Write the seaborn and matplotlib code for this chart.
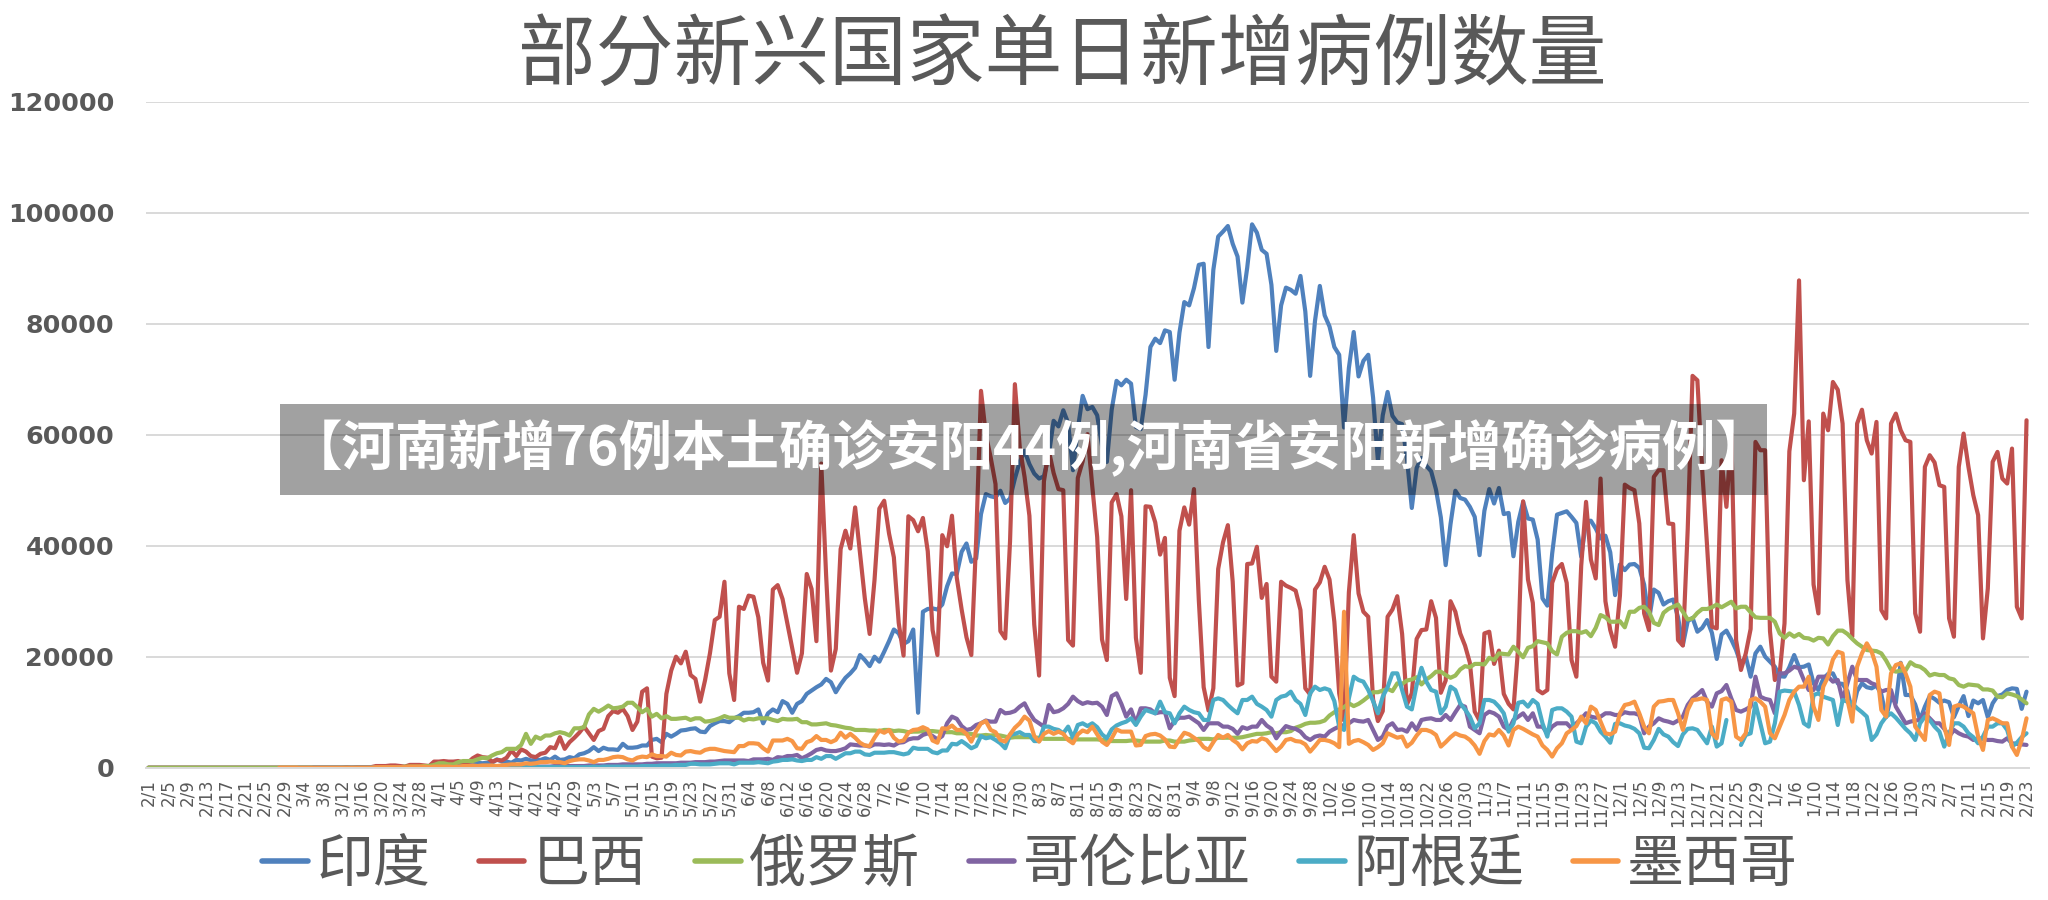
import numpy as np
import pandas as pd
import seaborn as sns
import matplotlib.pyplot as plt
from matplotlib.lines import Line2D
from matplotlib.patches import Rectangle

nan = np.nan

# daily new cases in thousands, 2020-02-01 .. 2021-02-23 (one value per day)
india = (
    [0] * 29
    + [0, 0, 0, 0, 0, 0, 0, 0, 0, 0, 0, 0, 0, 0, 0, 0, 0, 0, 0.1, 0.1, 0.1, 0.1, 0.1, 0.1, 0.1, 0.1, 0.1, 0.1, 0.2, 0.1, 0.6]
    + [0.5, 0.5, 0.5, 0.5, 0.7, 0.5, 0.5, 0.6, 0.9, 0.8, 0.9, 0.9, 1.5, 1.1, 1.1, 0.9, 1.4, 1.3, 1.6, 1.3, 1.4, 1.4, 1.7, 1.4, 2.0, 1.4, 1.5, 1.9, 1.7, 2.4]
    + [2.6, 3.0, 3.7, 3.0, 3.6, 3.3, 3.3, 3.2, 4.3, 3.6, 3.6, 3.7, 4.0, 4.0, 5.0, 5.2, 4.6, 6.1, 5.6, 6.1, 6.7, 6.8, 7.0, 7.1, 6.5, 6.4, 7.5, 8.0, 8.4, 8.4, 8.2]
    + [8.9, 9.3, 9.9, 9.9, 10.0, 10.5, 8.0, 9.8, 10.5, 10.0, 12.0, 11.5, 9.9, 11.5, 12.0, 13.3, 13.9, 14.5, 15.0, 16.0, 15.4, 13.6, 15.0, 16.2, 17.0, 18.0, 20.3, 19.4, 18.3, 20.0]
    + [19.1, 20.9, 22.8, 24.9, 24.2, 22.3, 22.8, 24.9, 9.9, 28.1, 28.6, 28.7, 28.5, 29.4, 32.7, 35.0, 34.9, 38.9, 40.4, 37.1, 37.7, 45.7, 49.3, 48.9, 48.7, 49.9, 47.7, 48.5, 52.1, 55.1, 57.1]
    + [54.7, 53.0, 52.1, 52.5, 56.3, 62.5, 61.5, 64.4, 62.1, 53.6, 61.0, 67.0, 64.6, 65.0, 63.5, 58.0, 55.1, 64.5, 69.7, 68.9, 69.9, 69.2, 61.4, 61.0, 67.2, 75.8, 77.3, 76.5, 78.8, 78.5, 69.9]
    + [78.4, 83.9, 83.3, 86.4, 90.6, 90.8, 75.8, 89.7, 95.7, 96.6, 97.6, 94.4, 92.1, 83.8, 90.1, 97.9, 96.4, 93.3, 92.6, 87.0, 75.1, 83.3, 86.5, 86.1, 85.4, 88.6, 82.2, 70.6, 80.5, 86.8]
    + [81.5, 79.5, 75.8, 74.4, 61.3, 72.0, 78.5, 70.5, 73.3, 74.4, 66.7, 55.3, 63.5, 67.7, 63.4, 62.2, 61.9, 55.7, 46.8, 54.0, 55.8, 54.4, 53.4, 50.1, 45.1, 36.5, 43.9, 49.9, 48.6, 48.3, 47.0]
    + [45.2, 38.3, 46.3, 50.2, 47.6, 50.4, 45.7, 45.9, 38.1, 44.3, 47.9, 44.9, 44.7, 41.1, 30.5, 29.2, 38.6, 45.6, 45.9, 46.2, 45.2, 44.1, 38.0, 44.4, 44.5, 43.1, 41.3, 41.8, 38.8, 31.1]
    + [36.6, 35.6, 36.6, 36.7, 36.0, 33.0, 26.6, 32.1, 31.5, 29.4, 30.0, 30.3, 27.1, 22.1, 26.4, 27.0, 24.5, 25.2, 26.6, 24.3, 19.6, 24.0, 24.7, 23.1, 21.2, 18.7, 20.0, 16.4, 20.6, 21.8, 20.0]
    + [19.1, 18.2, 16.5, 16.4, 18.1, 20.3, 18.1, 18.2, 18.6, 15.2, 14.0, 16.0, 16.9, 17.0, 15.2, 15.1, 13.8, 10.1, 13.8, 15.2, 14.5, 14.3, 14.8, 13.2, 9.1, 12.7, 11.7, 18.9, 13.1, 13.1, 11.4]
    + [8.6, 11.0, 12.9, 12.4, 11.7, 12.1, 11.8, 9.1, 11.1, 12.9, 9.3, 12.1, 11.6, 12.2, 9.1, 11.6, 12.9, 13.2, 14.0, 14.3, 14.2, 10.6, 13.7]
)

brazil = (
    [0] * 29
    + [0, 0, 0, 0, 0, 0, 0, 0, 0, 0, 0, 0, 0.1, 0, 0.1, 0.1, 0.1, 0.1, 0.3, 0.3, 0.3, 0.4, 0.4, 0.3, 0.2, 0.5, 0.5, 0.5, 0.4, 0.3, 1.1]
    + [1.1, 1.2, 1.1, 1.1, 1.2, 0.9, 0.9, 1.7, 2.2, 1.9, 1.8, 1.1, 1.4, 1.3, 1.8, 3.1, 2.1, 3.3, 2.9, 2.1, 1.9, 2.5, 2.7, 3.7, 3.5, 5.5, 3.4, 4.6, 5.4, 6.3]
    + [7.4, 6.2, 5.0, 6.6, 7.0, 9.3, 10.2, 9.9, 10.6, 9.3, 6.8, 8.3, 13.7, 14.3, 2.0, 1.7, 1.8, 13.3, 17.5, 20.0, 18.8, 20.9, 16.7, 16.0, 11.9, 15.8, 20.6, 26.6, 27.2, 33.5, 17.0]
    + [12.2, 29.0, 28.6, 31.0, 30.8, 27.1, 18.9, 15.7, 32.1, 32.9, 30.4, 26.0, 21.7, 17.1, 20.6, 34.9, 32.2, 22.8, 54.8, 34.7, 17.5, 21.4, 39.4, 42.7, 39.5, 46.9, 38.7, 30.5, 24.1, 33.8]
    + [46.7, 48.1, 42.2, 37.9, 26.1, 20.2, 45.3, 44.6, 42.6, 45.0, 39.0, 24.8, 20.3, 41.9, 39.9, 45.4, 34.2, 28.5, 23.5, 20.3, 41.0, 67.9, 60.0, 55.9, 51.1, 24.6, 23.3, 40.8, 69.1, 57.8, 52.4]
    + [45.4, 25.8, 16.6, 51.6, 57.2, 53.1, 50.2, 50.0, 23.0, 22.0, 52.2, 55.2, 60.1, 50.6, 41.6, 23.1, 19.4, 47.8, 49.3, 45.3, 30.4, 50.0, 23.4, 17.1, 47.1, 47.0, 44.2, 38.4, 41.4, 16.2, 12.9]
    + [42.7, 46.9, 43.8, 50.2, 30.2, 14.5, 10.3, 14.3, 35.8, 40.6, 43.7, 33.5, 14.8, 15.2, 36.7, 36.8, 39.8, 30.6, 33.1, 16.4, 15.5, 33.5, 32.8, 32.4, 31.9, 28.4, 14.3, 13.2, 32.1, 33.4]
    + [36.2, 33.9, 26.3, 13.4, 8.5, 31.6, 41.9, 31.4, 28.1, 27.2, 12.3, 8.4, 10.2, 27.2, 28.5, 30.9, 24.1, 11.4, 13.4, 23.2, 24.8, 24.9, 30.0, 27.0, 13.5, 15.7, 30.0, 28.1, 24.2, 22.0, 18.9]
    + [10.1, 8.5, 24.2, 24.5, 18.7, 21.1, 13.3, 11.5, 10.5, 22.0, 48.0, 33.9, 29.7, 14.0, 13.4, 14.0, 33.3, 35.8, 36.7, 33.3, 19.4, 16.4, 36.4, 47.9, 37.5, 34.1, 52.1, 30.0, 24.8, 21.8]
    + [31.0, 51.0, 50.4, 50.0, 44.0, 27.8, 24.8, 52.4, 53.6, 53.6, 44.0, 43.9, 23.0, 22.0, 42.9, 70.6, 69.8, 53.6, 40.0, 25.4, 25.1, 55.4, 47.0, 60.2, 23.0, 17.6, 20.6, 25.0, 58.7, 57.2, 57.2]
    + [24.6, 15.8, 17.0, 26.0, 57.0, 63.8, 87.8, 51.8, 62.4, 33.0, 27.8, 63.8, 60.8, 69.5, 68.1, 62.0, 33.8, 23.6, 62.0, 64.5, 59.0, 56.6, 62.3, 28.4, 26.9, 62.0, 63.8, 60.8, 59.0, 58.7, 27.8]
    + [24.5, 54.2, 56.3, 55.0, 50.9, 50.6, 26.9, 23.6, 54.2, 60.2, 54.2, 49.1, 45.5, 23.3, 32.3, 55.1, 56.9, 52.1, 51.2, 57.5, 29.0, 26.9, 62.6]
)

russia = (
    [0] * 29
    + [0, 0, 0, 0, 0, 0, 0, 0, 0, 0, 0, 0, 0, 0, 0, 0, 0, 0, 0.1, 0.1, 0.1, 0.1, 0.1, 0.1, 0.2, 0.2, 0.2, 0.2, 0.3, 0.3, 0.5]
    + [0.8, 0.8, 0.6, 0.6, 1.0, 1.2, 1.2, 1.2, 1.5, 1.8, 1.7, 2.2, 2.6, 2.8, 3.4, 3.4, 3.4, 4.1, 6.1, 4.3, 5.6, 5.2, 5.8, 5.8, 6.2, 6.4, 6.2, 5.8, 7.1, 7.1]
    + [7.3, 9.6, 10.6, 10.1, 10.6, 11.2, 10.7, 10.8, 11.0, 11.7, 11.7, 10.9, 10.0, 10.6, 9.2, 9.7, 8.9, 9.3, 8.8, 8.8, 8.9, 9.0, 8.6, 8.9, 8.9, 8.3, 8.4, 8.6, 8.9, 9.3, 9.0]
    + [9.0, 9.0, 8.5, 8.8, 8.7, 8.9, 8.9, 8.9, 8.6, 8.4, 8.8, 8.7, 8.7, 8.8, 8.2, 8.2, 7.8, 7.8, 7.9, 8.0, 7.7, 7.6, 7.4, 7.2, 7.1, 6.8, 6.8, 6.8, 6.7, 6.7]
    + [6.6, 6.8, 6.8, 6.6, 6.7, 6.6, 6.4, 6.5, 6.5, 6.6, 6.6, 6.6, 6.5, 6.4, 6.4, 6.4, 6.2, 6.2, 6.1, 6.1, 5.8, 5.8, 5.9, 5.8, 5.9, 5.8, 5.6, 5.4, 5.5, 5.5, 5.5]
    + [5.5, 5.4, 5.4, 5.2, 5.2, 5.2, 5.2, 5.2, 5.2, 5.1, 5.1, 5.1, 5.1, 5.1, 5.1, 5.0, 4.9, 4.8, 4.8, 4.8, 4.8, 4.9, 4.9, 4.8, 4.7, 4.7, 4.7, 4.7, 4.9, 4.9, 4.7]
    + [4.7, 4.7, 4.9, 5.0, 5.2, 5.2, 5.2, 5.1, 5.4, 5.4, 5.4, 5.4, 5.4, 5.5, 5.7, 5.9, 6.1, 6.1, 6.2, 6.4, 6.2, 6.4, 6.4, 6.6, 7.2, 7.5, 7.9, 8.1, 8.1, 8.2]
    + [8.5, 9.4, 10.0, 10.5, 10.9, 11.6, 11.1, 11.5, 12.1, 12.8, 13.6, 13.6, 13.9, 14.2, 13.8, 15.2, 15.1, 15.7, 15.9, 16.3, 15.0, 15.9, 16.5, 17.3, 17.3, 16.7, 16.2, 16.6, 17.7, 18.3, 18.1]
    + [18.7, 18.7, 18.6, 19.8, 19.4, 20.6, 20.5, 20.4, 21.8, 20.9, 19.9, 21.6, 21.9, 22.8, 22.6, 22.4, 21.0, 20.4, 23.6, 24.3, 24.6, 24.6, 24.3, 24.6, 23.7, 25.2, 27.5, 27.1, 26.3, 26.3]
    + [26.4, 25.3, 28.1, 28.1, 28.8, 29.0, 28.1, 26.1, 25.7, 27.9, 28.6, 29.0, 29.4, 28.1, 26.7, 26.9, 27.9, 28.6, 28.6, 28.9, 29.4, 28.9, 29.4, 29.9, 28.7, 29.0, 29.0, 28.0, 27.1, 27.0, 27.0]
    + [27.0, 26.3, 24.2, 23.4, 24.2, 23.6, 24.1, 23.4, 23.3, 22.9, 23.4, 23.3, 22.2, 23.7, 24.7, 24.7, 24.1, 23.2, 22.4, 21.8, 21.2, 21.1, 21.0, 20.6, 19.3, 17.7, 17.3, 17.5, 17.5, 19.0, 18.4]
    + [18.2, 17.6, 16.6, 16.9, 16.7, 16.7, 16.1, 15.9, 14.9, 14.6, 15.0, 14.9, 14.8, 14.1, 14.1, 13.9, 12.8, 12.7, 13.4, 13.2, 12.9, 12.3, 11.6]
)

colombia = (
    [nan] * 29
    + [nan, nan, nan, nan, nan, 0, 0, 0, 0, 0, 0, 0, 0, 0, 0, 0, 0, 0, 0.1, 0.1, 0.1, 0.1, 0.1, 0.1, 0.1, 0.1, 0.1, 0.1, 0.1, 0.1, 0.1]
    + [0.1, 0.1, 0.1, 0.1, 0.1, 0.1, 0.1, 0.1, 0.1, 0.1, 0.1, 0.1, 0.1, 0.1, 0.1, 0.2, 0.2, 0.2, 0.2, 0.2, 0.2, 0.2, 0.2, 0.2, 0.3, 0.3, 0.3, 0.3, 0.3, 0.3]
    + [0.3, 0.4, 0.4, 0.4, 0.4, 0.5, 0.5, 0.5, 0.6, 0.6, 0.6, 0.6, 0.6, 0.7, 0.7, 0.8, 0.8, 0.8, 0.8, 0.8, 0.9, 0.9, 0.9, 1.0, 1.0, 1.0, 1.1, 1.1, 1.2, 1.3, 1.3]
    + [1.3, 1.3, 1.3, 1.2, 1.5, 1.5, 1.5, 1.6, 1.4, 1.9, 1.8, 2.1, 2.1, 2.3, 1.7, 2.1, 2.6, 3.2, 3.4, 3.1, 3.0, 3.0, 3.2, 3.5, 4.2, 4.1, 4.0, 4.0, 3.8, 4.2]
    + [4.2, 4.1, 4.2, 4.0, 4.5, 4.6, 5.1, 5.3, 5.3, 5.9, 6.2, 5.7, 5.1, 5.7, 8.0, 9.2, 8.8, 7.5, 6.8, 7.0, 7.7, 8.0, 8.5, 8.3, 8.3, 10.4, 9.8, 9.9, 10.2, 11.0, 11.6]
    + [9.9, 8.6, 8.0, 7.4, 11.3, 10.0, 10.2, 10.7, 11.5, 12.8, 12.0, 11.5, 11.8, 11.6, 11.7, 11.0, 9.5, 12.9, 13.4, 11.5, 9.2, 10.5, 8.0, 10.7, 10.7, 10.5, 9.8, 10.0, 10.0, 7.1, 8.5]
    + [9.0, 9.0, 9.2, 8.6, 8.0, 6.8, 8.0, 8.0, 8.0, 7.4, 7.4, 7.0, 6.1, 7.3, 7.0, 7.4, 7.4, 8.6, 7.6, 7.0, 5.3, 6.5, 7.5, 7.2, 7.0, 6.5, 5.5, 5.0, 5.6, 5.8]
    + [5.6, 6.5, 7.0, 7.4, 7.7, 8.0, 8.6, 8.4, 8.3, 8.6, 6.8, 5.0, 5.6, 7.5, 8.0, 6.8, 6.9, 6.5, 8.0, 6.8, 8.6, 8.8, 8.9, 8.6, 8.6, 9.5, 8.6, 10.0, 11.3, 11.0, 7.4]
    + [6.8, 6.2, 9.5, 10.1, 9.8, 9.2, 7.4, 6.8, 8.6, 9.2, 9.8, 8.6, 9.8, 7.4, 7.4, 6.2, 7.4, 8.0, 8.0, 8.0, 7.1, 8.0, 8.8, 9.8, 9.2, 9.0, 9.2, 9.8, 9.8, 9.5]
    + [9.5, 10.0, 9.8, 9.8, 9.5, 6.2, 7.4, 8.0, 8.9, 8.5, 8.3, 8.0, 8.5, 9.2, 11.3, 12.5, 13.2, 14.0, 11.9, 11.0, 13.4, 13.8, 14.9, 12.5, 10.4, 10.1, 10.5, 11.0, 16.4, 12.8, 12.4]
    + [12.2, 9.8, 17.0, 17.0, 17.5, 18.2, 17.9, 15.8, 14.0, 14.0, 16.4, 16.4, 16.4, 15.5, 15.8, 12.2, 15.2, 18.2, 15.8, 15.8, 15.8, 15.2, 14.9, 13.7, 14.0, 14.0, 11.0, 9.5, 8.0, 8.3, 8.5]
    + [8.6, 9.8, 8.9, 8.0, 8.0, 7.0, 5.6, 6.8, 6.2, 5.8, 5.6, 5.0, 5.3, 5.2, 5.0, 5.0, 4.8, 4.7, 5.3, 4.4, 4.3, 4.2, 4.1]
)

argentina = (
    [nan] * 29
    + [nan, nan, 0, 0, 0, 0, 0, 0, 0, 0, 0, 0, 0, 0, 0, 0, 0, 0, 0, 0, 0.1, 0.1, 0.1, 0.1, 0.1, 0.1, 0.1, 0.1, 0.1, 0.1, 0.1]
    + [0.1, 0.1, 0.1, 0.1, 0.1, 0.1, 0.1, 0.1, 0.1, 0.1, 0.1, 0.1, 0.1, 0.1, 0.1, 0.1, 0.1, 0.1, 0.1, 0.1, 0.1, 0.1, 0.1, 0.1, 0.1, 0.1, 0.1, 0.1, 0.1, 0.1]
    + [0.1, 0.1, 0.2, 0.1, 0.2, 0.2, 0.2, 0.2, 0.2, 0.2, 0.2, 0.2, 0.3, 0.3, 0.3, 0.3, 0.4, 0.4, 0.4, 0.5, 0.5, 0.5, 0.7, 0.7, 0.6, 0.6, 0.6, 0.7, 0.8, 0.8, 0.8]
    + [0.6, 0.9, 0.9, 0.9, 0.9, 1.0, 0.9, 0.8, 1.1, 1.2, 1.4, 1.4, 1.5, 1.3, 1.2, 1.4, 1.4, 1.9, 1.6, 2.1, 2.1, 1.6, 2.1, 2.6, 2.6, 2.9, 2.9, 2.4, 2.3, 2.7]
    + [2.7, 2.7, 2.8, 2.8, 2.6, 2.4, 2.6, 3.6, 3.4, 3.4, 3.4, 2.8, 2.6, 3.1, 3.1, 4.3, 4.2, 4.8, 4.2, 3.5, 3.9, 5.7, 5.3, 5.5, 5.0, 4.4, 3.5, 5.9, 6.1, 6.4, 5.9]
    + [5.9, 4.8, 4.8, 7.4, 7.4, 7.0, 6.8, 6.2, 7.4, 5.4, 7.7, 8.0, 7.5, 8.0, 7.3, 6.0, 5.3, 6.9, 7.6, 8.0, 8.3, 8.9, 7.7, 9.2, 10.4, 10.1, 9.8, 11.9, 10.0, 9.8, 8.0]
    + [9.8, 11.0, 10.4, 10.0, 9.8, 8.6, 8.6, 12.2, 12.5, 12.2, 11.3, 10.5, 9.8, 12.2, 12.2, 12.8, 11.5, 11.0, 10.4, 9.2, 12.2, 12.8, 13.0, 13.7, 12.2, 11.5, 9.5, 13.4, 14.6, 14.0]
    + [14.3, 14.0, 12.0, 7.4, 6.8, 12.5, 16.4, 15.8, 15.5, 14.0, 12.0, 9.8, 12.8, 14.5, 17.0, 17.0, 14.0, 11.0, 10.5, 14.9, 18.0, 15.5, 14.0, 13.7, 9.8, 11.0, 14.6, 14.0, 11.6, 10.5, 9.2]
    + [7.1, 8.0, 12.2, 12.2, 11.9, 11.0, 9.8, 6.5, 8.0, 11.7, 11.9, 11.0, 12.2, 11.5, 8.0, 5.6, 10.4, 10.7, 10.7, 10.1, 9.2, 4.7, 4.4, 7.4, 8.5, 8.0, 6.5, 5.6, 4.5, 7.9]
    + [8.0, 7.6, 7.4, 7.0, 6.2, 3.6, 3.5, 5.0, 7.0, 6.0, 5.6, 4.6, 3.9, 6.0, 7.0, 7.1, 6.8, 5.6, 4.4, 7.4, 3.8, 4.4, 8.6, nan, nan, 4.1, 5.9, 6.2, 11.6, 8.0, 4.4]
    + [4.7, 8.0, 13.7, 13.9, 13.8, 13.7, 11.3, 8.0, 7.4, 13.1, 13.4, 12.8, 12.5, 12.2, 7.7, 12.2, 11.9, 11.6, 10.7, 10.0, 9.2, 5.0, 6.0, 8.0, 9.2, 9.8, 9.0, 8.0, 7.0, 6.2, 5.0]
    + [8.0, 9.2, 8.6, 7.4, 6.5, 3.8, 6.2, 8.0, 8.0, 7.4, 6.2, 5.5, 4.4, 5.6, 7.4, 7.4, 8.0, 8.0, 6.8, 3.8, 4.5, 5.5, 6.2]
)

mexico = (
    [nan] * 27 + [0, 0]
    + [0, 0, 0, 0, 0, 0, 0, 0, 0, 0, 0, 0, 0, 0, 0, 0, 0, 0, 0.1, 0.1, 0.1, 0.1, 0.1, 0.1, 0.1, 0.2, 0.2, 0.2, 0.2, 0.1, 0.2]
    + [0.2, 0.2, 0.2, 0.1, 0.2, 0.3, 0.3, 0.4, 0.3, 0.4, 0.4, 0.4, 0.3, 0.4, 0.5, 0.6, 0.6, 0.6, 0.8, 0.7, 0.8, 1.0, 1.0, 1.1, 1.0, 1.0, 0.8, 1.2, 1.4, 1.5]
    + [1.5, 1.3, 1.0, 1.4, 1.4, 1.6, 1.9, 2.0, 1.9, 1.5, 1.3, 1.8, 2.0, 1.9, 2.4, 2.1, 2.1, 2.0, 2.7, 2.3, 2.2, 2.9, 3.0, 2.8, 2.7, 3.2, 3.4, 3.4, 3.2, 3.0, 2.9]
    + [2.8, 3.9, 3.9, 4.4, 4.4, 4.3, 3.5, 2.9, 4.9, 4.9, 4.9, 5.2, 4.8, 3.5, 3.4, 4.6, 4.9, 5.7, 5.0, 5.0, 4.6, 5.0, 6.3, 5.4, 6.1, 5.4, 4.5, 4.0, 3.9, 5.4]
    + [6.7, 6.3, 6.8, 5.4, 4.7, 4.9, 6.3, 6.8, 6.9, 7.3, 6.9, 4.9, 4.5, 7.1, 7.0, 7.6, 6.8, 6.8, 6.1, 4.7, 6.6, 8.0, 8.4, 6.8, 6.4, 5.0, 4.7, 6.0, 7.2, 8.0, 9.2]
    + [8.5, 5.7, 4.7, 6.1, 6.6, 6.1, 6.5, 6.1, 5.0, 4.4, 6.0, 6.7, 6.4, 7.4, 6.0, 4.7, 4.1, 5.3, 6.9, 6.5, 6.5, 6.5, 4.0, 4.1, 5.7, 6.0, 6.1, 5.8, 5.1, 3.8, 3.7]
    + [5.1, 6.3, 6.0, 5.4, 4.8, 3.7, 3.2, 4.6, 5.9, 5.4, 5.9, 5.0, 4.4, 3.3, 4.4, 4.8, 4.7, 5.3, 5.0, 4.0, 3.0, 3.8, 5.0, 5.2, 4.8, 4.7, 4.2, 2.9, 3.9, 5.0]
    + [5.0, 4.8, 4.4, 3.7, 28.1, 4.3, 4.8, 5.0, 4.6, 4.1, 3.2, 3.7, 4.4, 6.2, 5.8, 5.4, 5.6, 3.8, 4.5, 5.8, 6.8, 6.8, 6.5, 5.9, 3.8, 4.6, 5.5, 6.2, 5.8, 5.6, 5.0]
    + [4.0, 2.5, 4.8, 6.0, 5.8, 6.8, 5.8, 4.0, 6.8, 7.4, 7.0, 6.5, 6.0, 5.6, 4.0, 3.2, 2.0, 3.5, 4.4, 6.2, 6.8, 7.5, 9.2, 8.0, 11.0, 10.4, 8.3, 6.2, 6.0, 6.5]
    + [9.8, 11.3, 11.5, 11.9, 9.8, 7.4, 6.2, 11.0, 11.9, 12.0, 12.2, 12.2, 9.8, 6.8, 10.4, 12.2, 12.3, 12.5, 12.2, 6.2, 5.3, 12.2, 12.5, 11.9, 5.6, 5.0, 6.2, 12.2, 12.5, 11.9, 11.0]
    + [6.2, 5.3, 7.4, 9.5, 12.2, 13.7, 14.6, 14.6, 16.4, 11.0, 8.6, 14.6, 16.4, 19.5, 20.9, 20.6, 12.2, 8.3, 18.2, 20.6, 22.4, 20.9, 18.2, 10.4, 9.2, 17.0, 18.5, 18.8, 17.0, 14.6, 7.4]
    + [6.2, 5.0, 13.1, 13.7, 13.4, 7.4, 4.1, 11.0, 11.3, 11.0, 10.4, 9.8, 5.6, 3.2, 8.6, 8.9, 8.5, 8.0, 8.0, 3.8, 2.3, 5.0, 8.9]
)

names = ["印度", "巴西", "俄罗斯", "哥伦比亚", "阿根廷", "墨西哥"]
colors = ["#4F81BD", "#C0504D", "#9BBB59", "#8064A2", "#4BACC6", "#F79646"]
dates = pd.date_range("2020-02-01", "2021-02-23")
tick_labels = [f"{d.month}/{d.day}" for d in dates[::4]]

title = "部分新兴国家单日新增病例数量"
banner = "【河南新增76例本土确诊安阳44例,河南省安阳新增确诊病例】"

frames = []
for name, vals in zip(names, [india, brazil, russia, colombia, argentina, mexico]):
    assert len(vals) == len(dates), (name, len(vals))
    v = pd.Series(vals, dtype=float) * 1000
    frames.append(pd.DataFrame({
        "day": np.arange(len(v)),
        "cases": v,
        "country": name,
        "seg": v.isna().cumsum(),  # break the line where a day is missing
    }))
df = pd.concat(frames, ignore_index=True).dropna()

sns.set_style("white")
plt.rcParams["font.family"] = ["Noto Sans CJK SC", "DejaVu Sans"]
grey = "#595959"
light = "#D9D9D9"

fig = plt.figure(figsize=(20.48, 9.0), dpi=100)
ax = fig.add_axes([0.0713, 0.147, 0.9194, 0.740])

sns.lineplot(data=df, x="day", y="cases", hue="country", hue_order=names,
             units="seg", estimator=None, palette=colors, linewidth=3.0,
             legend=False, ax=ax)
for ln in ax.lines:
    ln.set_solid_joinstyle("round")
    ln.set_solid_capstyle("round")

ax.set_xlim(-0.5, len(dates) - 0.5)
ax.set_ylim(0, 120000)
ax.set_xlabel("")
ax.set_ylabel("")

yt = list(range(0, 120001, 20000))
ax.set_yticks(yt)
ax.set_yticklabels([str(v) for v in yt], family="DejaVu Sans", fontweight="bold",
                   fontsize=18.3, color=grey)
ax.tick_params(axis="y", length=0, pad=23)

ax.set_xticks(np.arange(0, len(dates), 4))
ax.set_xticklabels(tick_labels, rotation=90, family="DejaVu Sans", fontsize=12, color=grey)
ax.tick_params(axis="x", which="major", length=0, pad=8)
ax.set_xticks(np.append(np.arange(-0.5, len(dates), 4), len(dates) - 0.5), minor=True)
ax.tick_params(axis="x", which="minor", length=5, width=1.2, color=light)

ax.grid(axis="y", color=light, linewidth=1.4)
ax.grid(axis="x", visible=False)
ax.set_axisbelow(True)
for side in ["left", "right", "top"]:
    ax.spines[side].set_visible(False)
ax.spines["bottom"].set_color(light)
ax.spines["bottom"].set_linewidth(1.4)

fig.text(0.5186, 0.936, title, fontsize=56, fontweight="light", color=grey,
         ha="center", va="center")

handles = [Line2D([0], [0], color=c, lw=4, solid_capstyle="round") for c in colors]
fig.legend(handles, names, loc="center", bbox_to_anchor=(0.503, 0.039), ncol=6,
           frameon=False, fontsize=41, handlelength=0.8, handletextpad=0.15,
           columnspacing=0.85, labelcolor=grey)

# grey caption strip laid over the chart
fig.add_artist(Rectangle((0.1367, 0.45), 0.726, 0.101, transform=fig.transFigure,
                         facecolor="black", alpha=0.37, edgecolor="none", zorder=5))
fig.text(0.5025, 0.502, banner, fontsize=38.5, fontweight="heavy", color="white",
         ha="center", va="center", zorder=6)

fig.savefig("out.png", dpi=100)
